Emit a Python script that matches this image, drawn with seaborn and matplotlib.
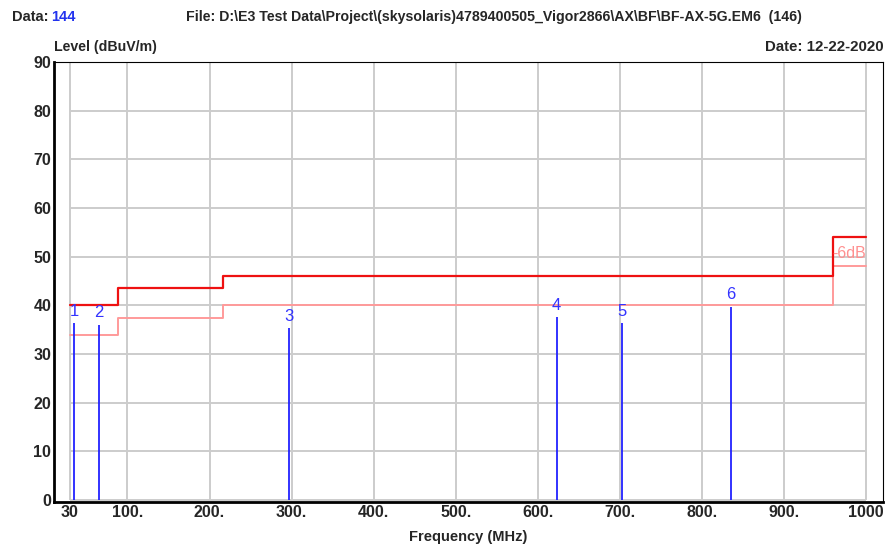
import numpy as np
import pandas as pd
import matplotlib
matplotlib.use("Agg")
import matplotlib.pyplot as plt
import seaborn as sns

# Limit lines (FCC class B) and -6 dB margin line
limit_edges = [30, 88, 216, 960, 1000]
limit_levels = [40, 43.5, 46, 54]
margin_levels = [34, 37.5, 40, 48]

# Peak markers
marker_ids = ["1", "2", "3", "4", "5", "6"]
marker_freq = [35.2, 65.3, 297.3, 623.1, 702.3, 835.0]
marker_level = [36.3, 36.0, 35.3, 37.6, 36.3, 39.7]

x_ticks = [30, 100, 200, 300, 400, 500, 600, 700, 800, 900, 1000]
x_tick_labels = ["30", "100.", "200.", "300.", "400.", "500.", "600.", "700.", "800.", "900.", "1000"]
y_ticks = list(range(0, 100, 10))

sns.set_style("white")
plt.rcParams['font.family'] = ['Liberation Sans', 'DejaVu Sans']
plt.rcParams['font.weight'] = 'bold'

fig = plt.figure(figsize=(8.87, 5.46), dpi=100)
ax = fig.add_axes([54 / 887, 44 / 546, 829 / 887, 440 / 546])

# inner grid
ax.vlines(x_ticks, 0, 90, color="#cccccc", lw=1.4, zorder=1)
ax.hlines(y_ticks, 30, 1000, color="#cccccc", lw=1.4, zorder=1)

lim = pd.DataFrame({"freq": limit_edges,
                    "limit": limit_levels + [limit_levels[-1]],
                    "margin": margin_levels + [margin_levels[-1]]})
sns.lineplot(data=lim, x="freq", y="margin", drawstyle="steps-post",
             color="#ff9a9a", lw=1.4, ax=ax, zorder=2)
sns.lineplot(data=lim, x="freq", y="limit", drawstyle="steps-post",
             color="#ee1111", lw=1.6, ax=ax, zorder=3)
ax.text(959, 50.6, "-6dB", color="#ff9090", fontsize=11.5, va="center", ha="left",
        fontweight="normal", zorder=4)

ax.vlines(marker_freq, 0, marker_level, color="#2222ff", lw=1.3, zorder=4)
for mid, f, lv in zip(marker_ids, marker_freq, marker_level):
    ax.text(f, lv + 0.9, mid, color="#3333ff", fontsize=12, ha="center", va="bottom",
            fontweight="normal")

ax.set_xlim(10.5, 1020.7)
ax.set_ylim(-0.4, 90)
ax.set_xticks(x_ticks)
ax.set_xticklabels(x_tick_labels)
ax.set_yticks(y_ticks)
ax.tick_params(axis="both", length=0, labelsize=11.5, pad=2)
ax.set_xlabel("Frequency (MHz)", fontsize=10.5, fontweight="bold", labelpad=7)
ax.set_ylabel("")

for side in ["top", "right"]:
    ax.spines[side].set_linewidth(0.8)
    ax.spines[side].set_color("black")
for side in ["left", "bottom"]:
    ax.spines[side].set_linewidth(2)
    ax.spines[side].set_color("black")

fig.text(12 / 887, 1 - 17 / 546, "Data:", fontsize=10.5, fontweight="bold", va="center")
fig.text(51 / 887, 1 - 17 / 546, "144", fontsize=10.5, fontweight="bold", color="#2233ee", va="center")
fig.text(186 / 887, 1 - 17 / 546,
         "File: D:\\E3 Test Data\\Project\\(skysolaris)4789400505_Vigor2866\\AX\\BF\\BF-AX-5G.EM6  (146)",
         fontsize=10.2, fontweight="bold", va="center")
fig.text(54 / 887, 1 - 47 / 546, "Level (dBuV/m)", fontsize=10.2, fontweight="bold", va="center")
fig.text(884 / 887, 1 - 47 / 546, "Date: 12-22-2020", fontsize=10.8, fontweight="bold",
         va="center", ha="right")

fig.savefig("out.png", dpi=100)
